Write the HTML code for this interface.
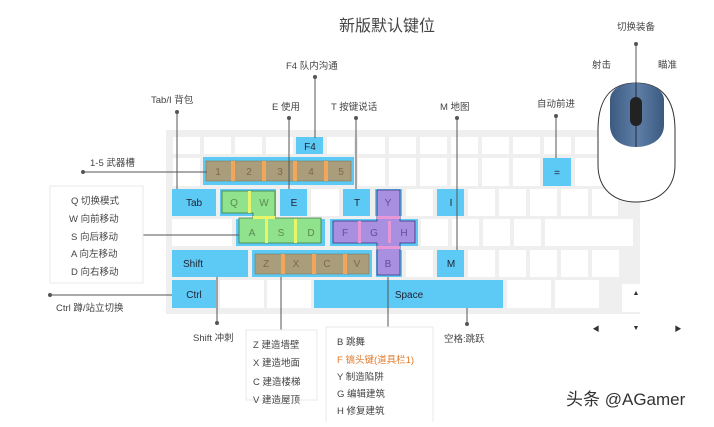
<!DOCTYPE html>
<html><head><meta charset="utf-8"><style>
html,body{margin:0;padding:0;background:#fff;}
body{width:714px;height:422px;overflow:hidden;position:relative;font-family:"Liberation Sans","Noto Sans CJK SC",sans-serif;}
svg text{font-family:"Liberation Sans","Noto Sans CJK SC",sans-serif;}
</style></head><body>
<svg width="714" height="422" viewBox="0 0 714 422" xmlns="http://www.w3.org/2000/svg">
<defs>
<linearGradient id="mg" x1="0" x2="1" y1="0" y2="0">
<stop offset="0" stop-color="#3c5a80"/><stop offset="0.5" stop-color="#5f7fa8"/><stop offset="1" stop-color="#3c5a80"/>
</linearGradient>
</defs>
<!-- keyboard bg -->
<rect x="166" y="130" width="474" height="184" fill="#efefef"/>
<g fill="#fff">
<!-- row0 -->
<rect x="173" y="137" width="27" height="17"/><rect x="204" y="137" width="27" height="17"/><rect x="235" y="137" width="27" height="17"/><rect x="266" y="137" width="27" height="17"/>
<rect x="327" y="137" width="27" height="17"/><rect x="358" y="137" width="27" height="17"/><rect x="389" y="137" width="27" height="17"/><rect x="420" y="137" width="27" height="17"/><rect x="451" y="137" width="27" height="17"/><rect x="482" y="137" width="27" height="17"/><rect x="513" y="137" width="27" height="17"/><rect x="544" y="137" width="27" height="17"/><rect x="575" y="137" width="27" height="17"/><rect x="606" y="137" width="27" height="17"/>
<!-- row1 -->
<rect x="173" y="158" width="27" height="28"/><rect x="358" y="158" width="27" height="28"/><rect x="389" y="158" width="27" height="28"/><rect x="420" y="158" width="27" height="28"/><rect x="451" y="158" width="27" height="28"/><rect x="482" y="158" width="27" height="28"/><rect x="513" y="158" width="27" height="28"/><rect x="575" y="158" width="27" height="28"/><rect x="606" y="158" width="27" height="28"/>
<!-- row2 -->
<rect x="311" y="189" width="28" height="27"/><rect x="406" y="189" width="27" height="27"/><rect x="468" y="189" width="27" height="27"/><rect x="499" y="189" width="27" height="27"/><rect x="530" y="189" width="27" height="27"/><rect x="561" y="189" width="27" height="27"/><rect x="592" y="189" width="26" height="27"/>
<!-- row3 -->
<rect x="172" y="219" width="60" height="27"/><rect x="421" y="219" width="27" height="27"/><rect x="452" y="219" width="27" height="27"/><rect x="483" y="219" width="27" height="27"/><rect x="514" y="219" width="27" height="27"/><rect x="545" y="219" width="88" height="27"/>
<!-- row4 -->
<rect x="406" y="250" width="27" height="27"/><rect x="468" y="250" width="27" height="27"/><rect x="499" y="250" width="27" height="27"/><rect x="530" y="250" width="27" height="27"/><rect x="561" y="250" width="27" height="27"/><rect x="592" y="250" width="27" height="27"/>
<!-- row5 -->
<rect x="220" y="280" width="44" height="28"/><rect x="267" y="280" width="44" height="28"/><rect x="507" y="280" width="44" height="28"/><rect x="555" y="280" width="44" height="28"/><rect x="622" y="284" width="18" height="28"/>
</g>
<!-- blue keys -->
<g fill="#5ccaf5">
<rect x="296" y="137" width="27" height="17"/>
<rect x="203" y="157" width="151" height="28"/>
<rect x="543" y="158" width="28" height="28"/>
<rect x="172" y="189" width="44" height="27"/>
<rect x="220" y="189" width="56" height="27"/>
<rect x="280" y="189" width="27" height="27"/>
<rect x="343" y="189" width="27" height="27"/>
<rect x="375" y="189" width="27" height="27"/>
<rect x="437" y="189" width="27" height="27"/>
<rect x="236" y="219" width="89" height="27"/>
<rect x="330" y="219" width="88" height="27"/>
<rect x="172" y="250" width="76" height="27"/>
<rect x="252" y="250" width="120" height="27"/>
<rect x="376" y="250" width="26" height="27"/>
<rect x="437" y="250" width="27" height="27"/>
<rect x="172" y="280" width="44" height="28"/>
<rect x="314" y="280" width="189" height="28"/>
</g>
<!-- brown number keys -->
<rect x="206" y="161" width="145" height="20" fill="#a99d7c" stroke="#7f7a5c" stroke-width="0.6"/>
<g fill="#f2a65a"><rect x="231" y="161" width="4" height="20"/><rect x="262" y="161" width="4" height="20"/><rect x="293" y="161" width="4" height="20"/><rect x="324" y="161" width="4" height="20"/></g>
<rect x="255" y="254" width="114" height="20" fill="#a99d7c" stroke="#7f7a5c" stroke-width="0.6"/>
<g fill="#f2a65a"><rect x="281" y="254" width="4" height="20"/><rect x="312" y="254" width="4" height="20"/><rect x="343" y="254" width="4" height="20"/></g>
<!-- green -->
<path d="M222 191 H275 V218 H321 V243 H239 V218 H253 V213 H222 Z" fill="#90e28c" stroke="#3f7a3c" stroke-width="0.8"/>
<g fill="#e8f46a"><rect x="248" y="191" width="3" height="22"/><rect x="265" y="219" width="3" height="24"/><rect x="294" y="219" width="3" height="24"/><rect x="253" y="216" width="22" height="3"/></g>
<!-- purple -->
<path d="M377 190 H400 V221 H415 V243 H400 V275 H377 V243 H333 V221 H377 Z" fill="#a98fe0" stroke="#3b2d78" stroke-width="0.8"/>
<g fill="#e996d6"><rect x="358" y="221" width="3" height="22"/><rect x="388" y="221" width="3" height="22"/><rect x="377" y="216" width="23" height="3"/><rect x="377" y="246" width="23" height="3"/></g>
<!-- key labels -->
<g font-size="10" fill="#223" text-anchor="middle">
<text x="310" y="150">F4</text>
<text x="557" y="176">=</text>
<text x="194" y="206">Tab</text>
<text x="294" y="206">E</text>
<text x="357" y="206">T</text>
<text x="451" y="206">I</text>
<text x="451" y="267">M</text>
<text x="193" y="267">Shift</text>
<text x="194" y="298">Ctrl</text>
<text x="409" y="298">Space</text>
</g>
<g font-size="10" fill="#7d6a44" text-anchor="middle">
<text x="218" y="175">1</text><text x="249" y="175">2</text><text x="280" y="175">3</text><text x="311" y="175">4</text><text x="341" y="175">5</text>
<text x="266" y="267">Z</text><text x="296" y="267">X</text><text x="327" y="267">C</text><text x="357" y="267">V</text>
</g>
<g font-size="10" fill="#5a8a50" text-anchor="middle">
<text x="234" y="206">Q</text><text x="264" y="206">W</text><text x="252" y="236">A</text><text x="281" y="236">S</text><text x="311" y="236">D</text>
</g>
<g font-size="10" fill="#6a4a9a" text-anchor="middle">
<text x="388" y="206">Y</text><text x="345" y="236">F</text><text x="374" y="236">G</text><text x="404" y="236">H</text><text x="388" y="267">B</text>
</g>
<!-- connector lines -->
<g stroke="#555" stroke-width="1" fill="none">
<path d="M315 77V138"/><path d="M177 112V189"/><path d="M289 118V189"/><path d="M356 118V189"/><path d="M457 118V250"/><path d="M556 116V158"/>
<path d="M83 172H207"/><path d="M143 235H239"/><path d="M50 295H172"/>
<path d="M217 277V323"/><path d="M281 277V330"/><path d="M388 277V327"/><path d="M467 308V324"/>
<path d="M636 44V147"/>
</g>
<g fill="#555">
<circle cx="315" cy="77" r="2"/><circle cx="177" cy="112" r="2"/><circle cx="289" cy="118" r="2"/><circle cx="356" cy="118" r="2"/><circle cx="457" cy="118" r="2"/><circle cx="556" cy="116" r="2"/>
<circle cx="83" cy="172" r="2"/><circle cx="50" cy="295" r="2"/><circle cx="217" cy="323" r="2"/><circle cx="467" cy="324" r="2"/><circle cx="636" cy="44" r="2"/>
</g>
<!-- boxes -->
<rect x="50" y="186" width="93" height="97" fill="none" stroke="#e8e8e8"/>
<rect x="246" y="330" width="71" height="70" fill="none" stroke="#e8e8e8"/>
<rect x="326" y="327" width="107" height="100" fill="none" stroke="#e8e8e8"/>
<!-- mouse -->
<path d="M636 83 C610 83 598 100 598 130 V165 C598 190 615 202 636 202 C657 202 675 190 675 165 V130 C675 100 662 83 636 83 Z" fill="#fff" stroke="#333" stroke-width="1"/>
<path d="M636 83 C620 83 610 90 610 100 V125 C610 140 622 147 636 147 C650 147 664 140 664 125 V100 C664 90 652 83 636 83 Z" fill="url(#mg)"/>
<line x1="636" y1="83" x2="636" y2="147" stroke="#1e2a3a" stroke-width="1"/>
<rect x="630" y="97" width="12" height="29" rx="6" fill="#222"/>
<!-- text labels -->
<text x="387" y="31" font-size="16" fill="#444" text-anchor="middle">新版默认键位</text>
<g font-size="9.5" fill="#444">
<text x="286" y="69">F4 队内沟通</text>
<text x="151" y="103">Tab/I 背包</text>
<text x="272" y="110">E 使用</text>
<text x="331" y="110">T 按键说话</text>
<text x="440" y="110">M 地图</text>
<text x="537" y="107">自动前进</text>
<text x="617" y="30">切换装备</text>
<text x="592" y="68">射击</text>
<text x="658" y="68">瞄准</text>
<text x="90" y="166">1-5 武器槽</text>
<text x="71" y="204">Q 切换模式</text>
<text x="69" y="222">W 向前移动</text>
<text x="71" y="240">S 向后移动</text>
<text x="71" y="257">A 向左移动</text>
<text x="71" y="275">D 向右移动</text>
<text x="56" y="311">Ctrl 蹲/站立切换</text>
<text x="193" y="341">Shift 冲刺</text>
<text x="253" y="348">Z 建造墙壁</text>
<text x="253" y="366">X 建造地面</text>
<text x="253" y="385">C 建造楼梯</text>
<text x="253" y="403">V 建造屋顶</text>
<text x="337" y="345">B 跳舞</text>
<text x="337" y="363" fill="#e07a2a">F 镐头键(道具栏1)</text>
<text x="337" y="380">Y 制造陷阱</text>
<text x="337" y="397">G 编辑建筑</text>
<text x="337" y="414">H 修复建筑</text>
<text x="444" y="342">空格:跳跃</text>
</g>
<g font-size="7" fill="#333" text-anchor="middle">
<text x="636" y="295">▲</text><text x="596" y="331">◀</text><text x="636" y="330">▼</text><text x="678" y="331">▶</text>
</g>
<text x="566" y="405" font-size="17" fill="#333">头条 @AGamer</text>
</svg>
</body></html>
